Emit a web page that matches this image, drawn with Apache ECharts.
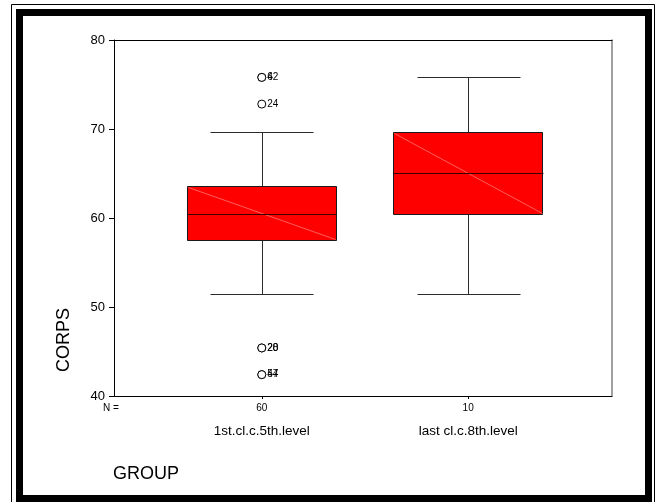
<!DOCTYPE html>
<html>
<head>
<meta charset="utf-8">
<script src="https://cdn.jsdelivr.net/npm/echarts@6/dist/echarts.min.js"></script>
<style>
  html, body { margin: 0; padding: 0; background: #fff; }
  #chart { width: 657px; height: 502px; }
</style>
</head>
<body>
<div id="chart"></div>
<script>
// Group positions on the x scale and their labels
var groupPos = [1, 2];
var groupNames = ['1st.cl.c.5th.level', 'last cl.c.8th.level'];
var groupN = ['60', '10'];

// Five-number summaries per group
var lowWhisker = [51.5, 51.5];
var q1 = [57.5, 60.5];
var median = [60.5, 65.1];
var q3 = [63.6, 69.7];
var highWhisker = [69.7, 75.8];

// Outlying cases (group position, value, case label)
var outlierGroup = [1, 1, 1, 1, 1, 1, 1];
var outlierValue = [75.8, 75.8, 72.8, 45.4, 45.4, 42.4, 42.4];
var outlierCase = ['6', '42', '24', '28', '20', '57', '44'];

// Value axis ticks
var yTicks = [40, 50, 60, 70, 80];

var FONT = '"Liberation Sans", Arial, sans-serif';

var boxData = groupPos.map(function (g, i) {
  return [g, lowWhisker[i], q1[i], median[i], q3[i], highWhisker[i]];
});
var outlierData = outlierValue.map(function (v, i) {
  return { value: [outlierGroup[i], v], label: { formatter: outlierCase[i] } };
});

var BOX_HALF = 0.362;
var CAP_HALF = 0.25;

function renderBox(params, api) {
  var x = api.value(0);
  var lo = api.value(1), b1 = api.value(2), md = api.value(3), b3 = api.value(4), hi = api.value(5);
  var tl = api.coord([x - BOX_HALF, b3]);
  var br = api.coord([x + BOX_HALF, b1]);
  var cHi = api.coord([x, hi]);
  var cLo = api.coord([x, lo]);
  var capL = api.coord([x - CAP_HALF, hi])[0];
  var capR = api.coord([x + CAP_HALF, hi])[0];
  var mdY = api.coord([x, md])[1];
  var cx = Math.round(cHi[0]) + 0.5;
  function r(v) { return Math.round(v) + 0.5; }
  var whisker = { stroke: '#2b2b2b', lineWidth: 1 };
  return {
    type: 'group',
    children: [
      { type: 'line', shape: { x1: cx, y1: r(cHi[1]), x2: cx, y2: r(tl[1]) }, style: whisker },
      { type: 'line', shape: { x1: cx, y1: r(br[1]), x2: cx, y2: r(cLo[1]) }, style: whisker },
      { type: 'line', shape: { x1: r(capL), y1: r(cHi[1]), x2: r(capR), y2: r(cHi[1]) }, style: whisker },
      { type: 'line', shape: { x1: r(capL), y1: r(cLo[1]), x2: r(capR), y2: r(cLo[1]) }, style: whisker },
      { type: 'rect', shape: { x: r(tl[0]), y: r(tl[1]), width: Math.round(br[0] - tl[0]), height: Math.round(br[1] - tl[1]) },
        style: { fill: '#ff0000', stroke: '#1a1a1a', lineWidth: 1 } },
      { type: 'line', shape: { x1: r(tl[0]) + 1, y1: r(tl[1]) + 1, x2: r(br[0]) - 1, y2: r(br[1]) - 1 },
        style: { stroke: '#ff9c9c', lineWidth: 0.6 } },
      { type: 'line', shape: { x1: r(tl[0]), y1: r(mdY), x2: r(br[0]), y2: r(mdY) },
        style: { stroke: '#3a0000', lineWidth: 1 } }
    ]
  };
}

var chart = echarts.init(document.getElementById('chart'), null, { renderer: 'canvas' });

chart.setOption({
  backgroundColor: '#ffffff',
  animation: false,
  grid: { left: 114, right: 45, top: 40, bottom: 106 },
  xAxis: [
    {
      type: 'value', min: 0.284, max: 2.697, position: 'bottom',
      axisLine: { show: true, onZero: false, lineStyle: { color: '#000', width: 1 } },
      axisTick: { show: true, customValues: groupPos, length: 3, lineStyle: { color: '#000' } },
      splitLine: { show: false },
      axisLabel: {
        show: true, customValues: groupPos, margin: 6, color: '#000',
        formatter: function (v) {
          var i = Math.round(v) - 1;
          return '{n|' + groupN[i] + '}\n{g|' + groupNames[i] + '}';
        },
        rich: {
          n: { fontSize: 10, lineHeight: 12, fontFamily: FONT, color: '#000' },
          g: { fontSize: 13.5, lineHeight: 34, fontFamily: FONT, color: '#000' }
        }
      }
    },
    {
      type: 'value', min: 0.284, max: 2.697, position: 'top',
      axisLine: { show: true, onZero: false, lineStyle: { color: '#000', width: 1 } },
      axisTick: { show: false }, axisLabel: { show: false }, splitLine: { show: false }
    }
  ],
  yAxis: [
    {
      type: 'value', min: 40, max: 80, interval: 10, position: 'left',
      axisLine: { show: true, onZero: false, lineStyle: { color: '#000', width: 1 } },
      axisTick: { show: true, length: 5, lineStyle: { color: '#000' } },
      splitLine: { show: false },
      axisLabel: { margin: 9, fontSize: 13, fontFamily: FONT, color: '#000',
        customValues: yTicks }
    },
    {
      type: 'value', min: 40, max: 80, position: 'right',
      axisLine: { show: true, onZero: false, lineStyle: { color: '#808080', width: 1.5 } },
      axisTick: { show: false }, axisLabel: { show: false }, splitLine: { show: false }
    }
  ],
  series: [
    {
      type: 'custom', xAxisIndex: 0, yAxisIndex: 0,
      renderItem: renderBox, data: boxData, z: 2, clip: false
    },
    {
      type: 'scatter', xAxisIndex: 0, yAxisIndex: 0,
      symbol: 'circle', symbolSize: 8,
      itemStyle: { color: '#ffffff', borderColor: '#000000', borderWidth: 1, opacity: 1 },
      label: { show: true, position: 'right', distance: 1, fontSize: 10, fontFamily: FONT, color: '#000' },
      data: outlierData, z: 3
    }
  ],
  graphic: [
    { type: 'rect', silent: true, shape: { x: 11.5, y: 4.5, width: 643, height: 520 },
      style: { fill: 'none', stroke: '#000', lineWidth: 1 } },
    { type: 'rect', silent: true, shape: { x: 19.5, y: 12.5, width: 629, height: 486 },
      style: { fill: 'none', stroke: '#000', lineWidth: 7 } },
    { type: 'text', silent: true, x: 64, y: 340, rotation: Math.PI / 2,
      style: { text: 'CORPS', font: '18px ' + FONT, fill: '#000', textAlign: 'center', textVerticalAlign: 'middle' } },
    { type: 'text', silent: true, x: 113, y: 474,
      style: { text: 'GROUP', font: '18px ' + FONT, fill: '#000', textAlign: 'left', textVerticalAlign: 'middle' } },
    { type: 'text', silent: true, x: 103, y: 408.5,
      style: { text: 'N =', font: '10px ' + FONT, fill: '#000', textAlign: 'left', textVerticalAlign: 'middle' } }
  ]
});
</script>
</body>
</html>
